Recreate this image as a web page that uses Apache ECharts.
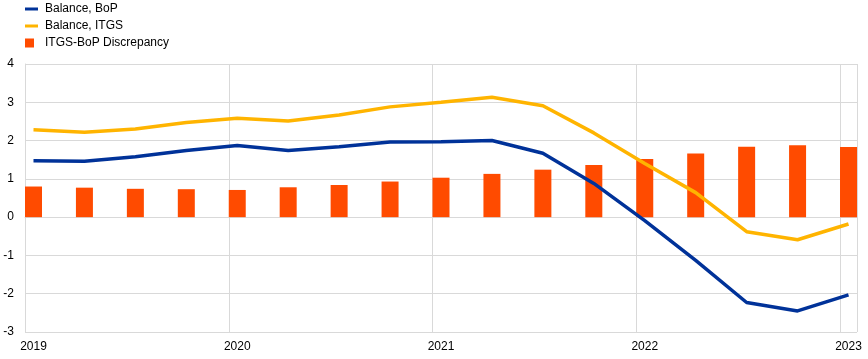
<!DOCTYPE html>
<html>
<head>
<meta charset="utf-8">
<script src="https://cdn.jsdelivr.net/npm/echarts@6/dist/echarts.min.js"></script>
<style>
html,body{margin:0;padding:0;background:#fff;}
#chart{width:868px;height:359px;}
</style>
</head>
<body>
<div id="chart"></div>
<script>
// Quarterly observations, 2019Q1 .. 2023Q1
var quarters = ['2019Q1','2019Q2','2019Q3','2019Q4','2020Q1','2020Q2','2020Q3','2020Q4',
  '2021Q1','2021Q2','2021Q3','2021Q4','2022Q1','2022Q2','2022Q3','2022Q4','2023Q1'];
var balanceBoP = [1.47,1.46,1.58,1.74,1.87,1.74,1.84,1.96,1.97,2.00,1.67,0.88,-0.09,-1.13,-2.23,-2.45,-2.03];
var balanceITGS = [2.28,2.22,2.30,2.47,2.58,2.51,2.67,2.88,3.00,3.13,2.91,2.20,1.40,0.64,-0.38,-0.59,-0.18];
var discrepancy = [0.80,0.77,0.74,0.73,0.71,0.78,0.84,0.93,1.03,1.13,1.24,1.36,1.52,1.66,1.84,1.88,1.83];
var yearTicks = ['2019','2020','2021','2022','2023'];
var seriesNames = ['Balance, BoP','Balance, ITGS','ITGS-BoP Discrepancy'];

// position in months since Jan 2019 (mid-month of first month of each quarter)
function monthPos(q){
  var y = parseInt(q.slice(0,4),10), n = parseInt(q.slice(5),10);
  return (y-2019)*12 + (n-1)*3 + 0.5;
}
function pairs(vals){ return quarters.map(function(q,i){ return [monthPos(q), vals[i]]; }); }

var chart = echarts.init(document.getElementById('chart'));
var font = 'Liberation Sans, Arial, sans-serif';
chart.setOption({
  animation:false,
  textStyle:{fontFamily:font},
  legend:{
    orient:'vertical', left:25, top:0, itemGap:5, padding:[3,5,5,0],
    itemWidth:13, itemHeight:9,
    textStyle:{fontFamily:font,fontSize:12,color:'#000',padding:[0,0,0,2]},
    data:[
      {name:seriesNames[0], icon:'path://M0,3h13v3h-13z'},
      {name:seriesNames[1], icon:'path://M0,3h13v3h-13z'},
      {name:seriesNames[2], icon:'path://M0,0h9v9h-9zM13,9h0.01v0.01h-0.01z'}
    ]
  },
  grid:{left:25,right:11,top:64,bottom:27,containLabel:false},
  xAxis:{
    type:'value', min:0, max:49, interval:12,
    axisLine:{show:true,lineStyle:{color:'#d9d9d9',width:1}},
    axisTick:{show:false},
    splitLine:{show:true,lineStyle:{color:'#d9d9d9',width:1}},
    axisLabel:{
      fontFamily:font,fontSize:12,color:'#000',margin:9,
      padding:[0,0,0,17],
      formatter:function(v){ var k = Math.round(v/12); return (v%12===0 && yearTicks[k]) ? yearTicks[k] : ''; }
    }
  },
  yAxis:{
    type:'value', min:-3, max:4, interval:1,
    axisLine:{show:true,lineStyle:{color:'#d9d9d9',width:1}},
    axisTick:{show:false},
    splitLine:{show:true,lineStyle:{color:'#d9d9d9',width:1}},
    axisLabel:{fontFamily:font,fontSize:12,color:'#000',margin:11}
  },
  series:[
    {name:seriesNames[2], type:'bar', data:pairs(discrepancy), barWidth:17,
     itemStyle:{color:'#ff4b00'}, z:1},
    {name:seriesNames[0], type:'line', data:pairs(balanceBoP), showSymbol:false, symbol:'none',
     lineStyle:{color:'#003299',width:3.5}, itemStyle:{color:'#003299'}, z:3},
    {name:seriesNames[1], type:'line', data:pairs(balanceITGS), showSymbol:false, symbol:'none',
     lineStyle:{color:'#ffb400',width:3.5}, itemStyle:{color:'#ffb400'}, z:2}
  ]
});
</script>
</body>
</html>
